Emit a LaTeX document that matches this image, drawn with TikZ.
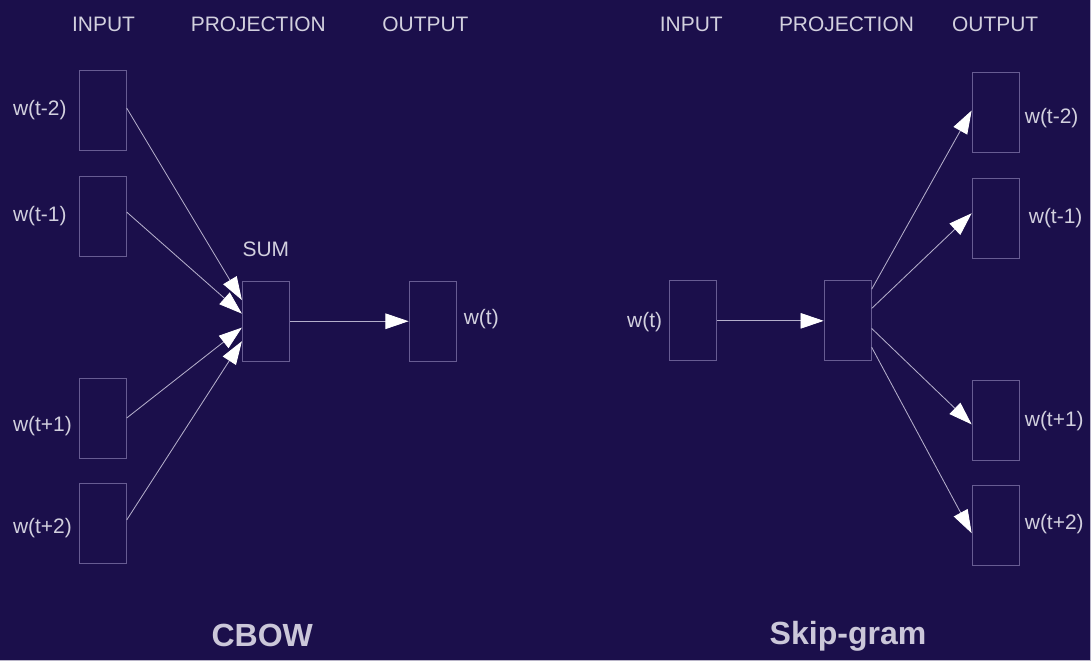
\documentclass[tikz,border=0pt]{standalone}
\usepackage{fontspec}
\setmainfont{Liberation Sans}
\usetikzlibrary{arrows.meta,positioning}

\definecolor{bgnavy}{HTML}{1B0F4B}
\definecolor{boxline}{HTML}{675C92}
\definecolor{linkgray}{HTML}{B4AECB}
\definecolor{labeltext}{HTML}{D2D0DE}
\definecolor{titletext}{HTML}{CBC7D9}
\definecolor{edgegray}{HTML}{B8B4C8}

\begin{document}
\begin{tikzpicture}[
  font=\fontsize{14.9}{17}\selectfont,
  vecbox/.style={rectangle, draw=boxline, line width=0.7pt, minimum width=1.175cm, minimum height=2cm, inner sep=0pt},
  wlabel/.style={text=labeltext, inner sep=0pt},
  header/.style={text=labeltext},
  modelname/.style={text=titletext, font=\bfseries\fontsize{22.8}{26}\selectfont},
  link/.style={-{Triangle[length=0.58cm, width=0.39cm, color=white]}, draw=linkgray, line width=0.6pt}
]

% Background and frame.
\fill[bgnavy] (0,0) rectangle (27.275,16.525);
\draw[edgegray, line width=0.5pt] (0,0.0125) -- (27.2625,0.0125) -- (27.2625,16.525);

% Column headers.
\node[header] at (2.58,15.92) {INPUT};
\node[header] at (6.45,15.92) {PROJECTION};
\node[header] at (10.63,15.92) {OUTPUT};
\node[header] at (17.28,15.92) {INPUT};
\node[header] at (21.16,15.92) {PROJECTION};
\node[header] at (24.88,15.92) {OUTPUT};

% CBOW: context words summed into the projection.
\coordinate (labelcol) at (0.31,0);
\node[vecbox] (in1) at (2.56,13.78) {};
\node[vecbox] (in2) at (2.56,11.13) {};
\node[vecbox] (in3) at (2.56,6.08) {};
\node[vecbox] (in4) at (2.56,3.43) {};
\node[wlabel, anchor=west] at (in1.west -| labelcol) {w(t-2)};
\node[wlabel, anchor=west] at (in2.west -| labelcol) {w(t-1)};
\node[wlabel, anchor=west, yshift=-0.2cm] at (in3.west -| labelcol) {w(t+1)};
\node[wlabel, anchor=west, yshift=-0.1cm] at (in4.west -| labelcol) {w(t+2)};

\node[vecbox] (sum) at (6.64,8.5) {};
\node[wlabel, above=0.6cm of sum] {SUM};
\node[vecbox] (out) at (10.81,8.5) {};
\node[wlabel, right=0.175cm of out, yshift=0.06cm] {w(t)};

\draw[link] ([yshift=0.05cm]in1.east) -- ([yshift=0.53cm]sum.west);
\draw[link] ([yshift=0.1cm]in2.east) -- ([yshift=0.19cm]sum.west);
\draw[link] (in3.east) -- ([yshift=-0.16cm]sum.west);
\draw[link] ([yshift=0.1cm]in4.east) -- ([yshift=-0.5cm]sum.west);
\draw[link] (sum) -- (out.west);

\node[modelname] at (6.55,0.63) {CBOW};

% Skip-gram: one word predicts its context.
\node[vecbox] (sin) at (17.33,8.51) {};
\node[wlabel, left=0.175cm of sin, yshift=-0.04cm] {w(t)};
\node[vecbox] (sproj) at (21.19,8.51) {};

\node[vecbox] (sout1) at (24.89,13.71) {};
\node[vecbox] (sout2) at (24.89,11.08) {};
\node[vecbox] (sout3) at (24.89,6.01) {};
\node[vecbox] (sout4) at (24.89,3.38) {};
\node[wlabel, right=0.125cm of sout1, yshift=-0.12cm] {w(t-2)};
\node[wlabel, right=0.225cm of sout2] {w(t-1)};
\node[wlabel, right=0.125cm of sout3] {w(t+1)};
\node[wlabel, right=0.125cm of sout4, yshift=0.04cm] {w(t+2)};

\draw[link] (sin) -- (sproj.west);
\draw[link] ([yshift=0.79cm]sproj.east) -- ([yshift=0.06cm]sout1.west);
\draw[link] ([yshift=0.31cm]sproj.east) -- ([yshift=0.12cm]sout2.west);
\draw[link] ([yshift=-0.19cm]sproj.east) -- ([yshift=-0.09cm]sout3.west);
\draw[link] ([yshift=-0.66cm]sproj.east) -- ([yshift=-0.18cm]sout4.west);

\node[modelname] at (21.2,0.63) {Skip-gram};

\end{tikzpicture}
\end{document}
